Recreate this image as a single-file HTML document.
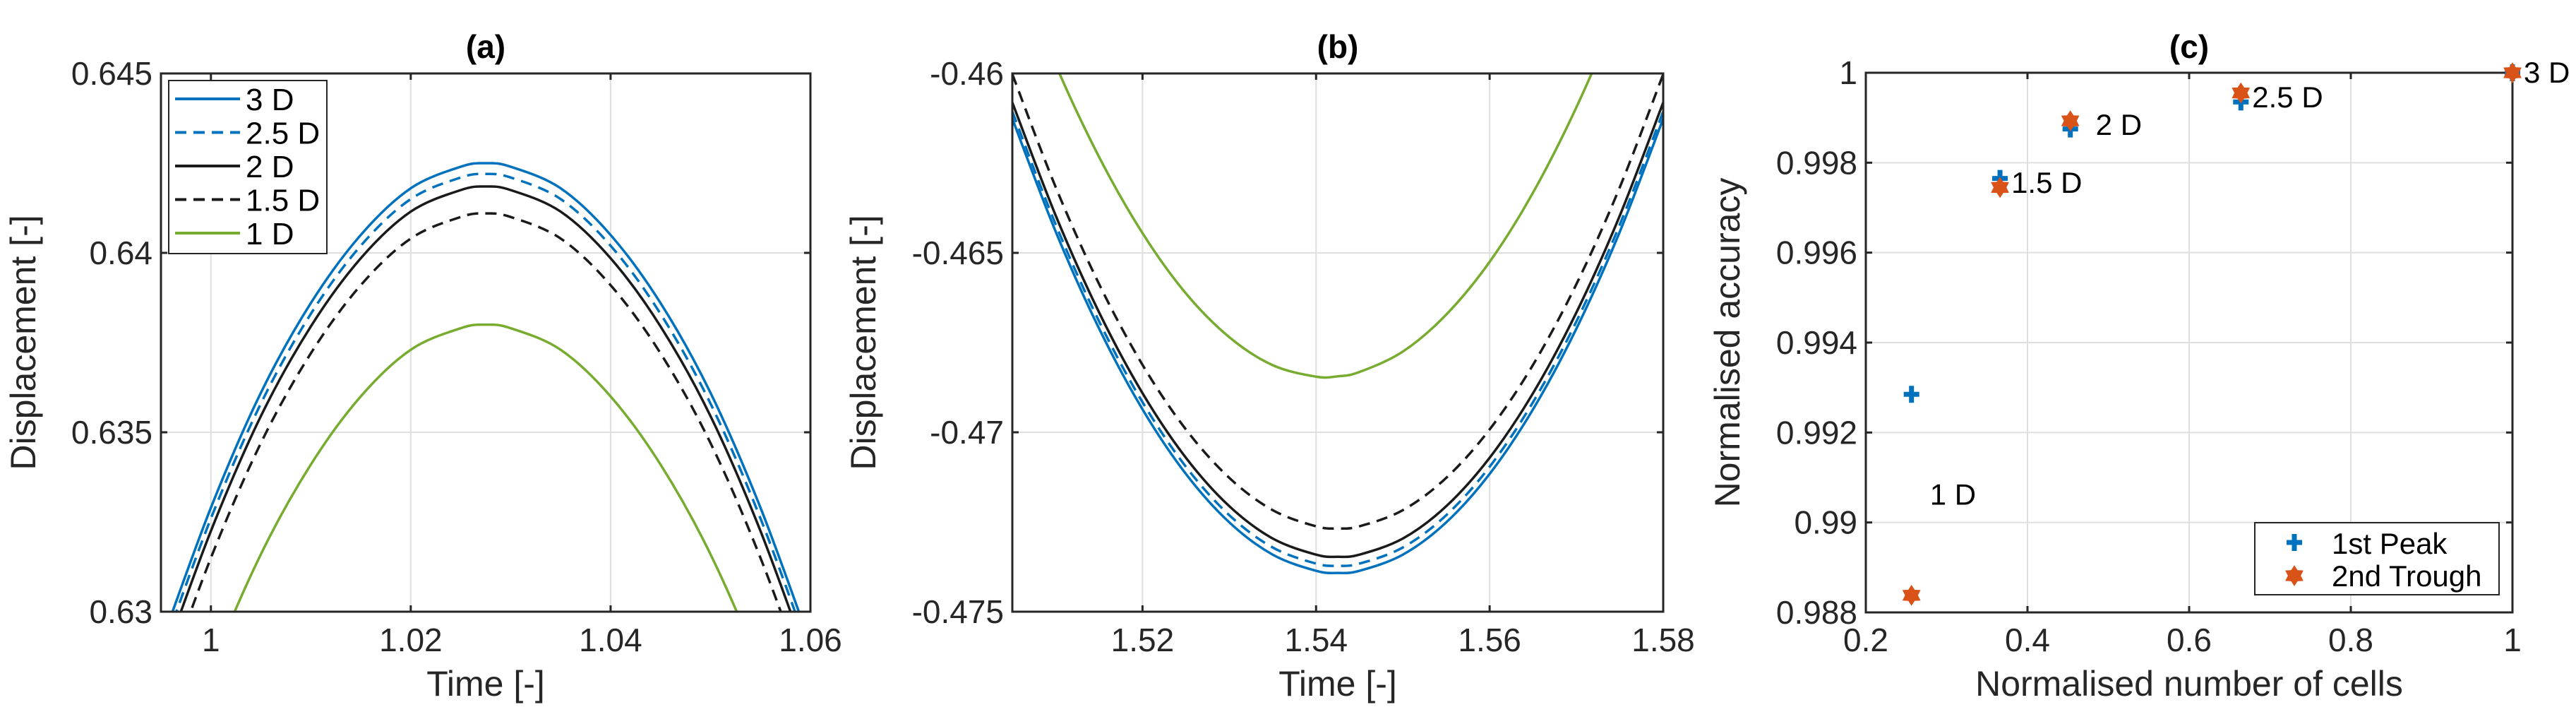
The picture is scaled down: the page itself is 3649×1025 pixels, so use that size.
<!DOCTYPE html>
<html><head><meta charset="utf-8"><style>
html,body{margin:0;padding:0;background:#fff;width:3649px;height:1025px;overflow:hidden}
svg{display:block;font-family:"Liberation Sans","DejaVu Sans",sans-serif}
</style></head><body>
<svg id="fig" width="3649" height="1025" viewBox="0 0 3649 1025" xmlns="http://www.w3.org/2000/svg">
<rect width="3649" height="1025" fill="#fff"/>
</svg>
<script>
// ---- Panel (a) data ----
const aTimes = [0.995, 1.0, 1.005, 1.01, 1.015, 1.02, 1.025, 1.0275, 1.03, 1.035, 1.04, 1.045, 1.05, 1.055, 1.06];
const a3D  = [0.6291, 0.6329, 0.6361, 0.6386, 0.6405, 0.6418, 0.6424, 0.6425, 0.6424, 0.6418, 0.6405, 0.6386, 0.6361, 0.6329, 0.6291];
const a25D = [0.6288, 0.6326, 0.6358, 0.6383, 0.6402, 0.6415, 0.6421, 0.6422, 0.6421, 0.6415, 0.6402, 0.6383, 0.6358, 0.6326, 0.6288];
const a2D  = [0.62845, 0.63225, 0.63545, 0.63795, 0.63985, 0.64115, 0.64175, 0.64185, 0.64175, 0.64115, 0.63985, 0.63795, 0.63545, 0.63225, 0.62845];
const a15D = [0.6277, 0.6315, 0.6347, 0.6372, 0.6391, 0.6404, 0.6410, 0.6411, 0.6410, 0.6404, 0.6391, 0.6372, 0.6347, 0.6315, 0.6277];
const a1D  = [0.6246, 0.6284, 0.6316, 0.6341, 0.6360, 0.6373, 0.6379, 0.6380, 0.6379, 0.6373, 0.6360, 0.6341, 0.6316, 0.6284, 0.6246];
const aXTicks = [1, 1.02, 1.04, 1.06];
const aYTicks = [0.63, 0.635, 0.64, 0.645];
// ---- Panel (b) data ----
const bTimes = [1.505, 1.51, 1.515, 1.52, 1.525, 1.53, 1.535, 1.54, 1.5425, 1.545, 1.55, 1.555, 1.56, 1.565, 1.57, 1.575, 1.58];
const b3D  = [-0.46126, -0.46441, -0.46711, -0.46936, -0.47116, -0.47251, -0.47341, -0.47386, -0.47392, -0.47386, -0.47341, -0.47251, -0.47116, -0.46936, -0.46711, -0.46441, -0.46126];
const b25D = [-0.46106, -0.46421, -0.46691, -0.46916, -0.47096, -0.47231, -0.47321, -0.47366, -0.47372, -0.47366, -0.47321, -0.47231, -0.47096, -0.46916, -0.46691, -0.46421, -0.46106];
const b2D  = [-0.46081, -0.46396, -0.46666, -0.46891, -0.47071, -0.47206, -0.47296, -0.47341, -0.47347, -0.47341, -0.47296, -0.47206, -0.47071, -0.46891, -0.46666, -0.46396, -0.46081];
const b15D = [-0.46002, -0.46317, -0.46587, -0.46812, -0.46992, -0.47127, -0.47217, -0.47262, -0.47268, -0.47262, -0.47217, -0.47127, -0.46992, -0.46812, -0.46587, -0.46317, -0.46002];
const b1D  = [-0.45673, -0.45976, -0.46233, -0.46445, -0.46613, -0.46735, -0.46813, -0.46845, -0.46844, -0.46832, -0.46775, -0.46672, -0.46525, -0.46332, -0.46094, -0.45812, -0.45484];
const bXTicks = [1.52, 1.54, 1.56, 1.58];
const bYTicks = [-0.475, -0.47, -0.465, -0.46];
// ---- Panel (c) data ----
const cCells = [0.2565, 0.366, 0.453, 0.664, 1.0];
const cLabels = ["1 D", "1.5 D", "2 D", "2.5 D", "3 D"];
const cPeak = [0.99285, 0.99765, 0.99875, 0.99935, 1.0];
const cTrough = [0.98838, 0.99745, 0.99893, 0.99955, 1.0];
const cXTicks = [0.2, 0.4, 0.6, 0.8, 1];
const cYTicks = [0.988, 0.99, 0.992, 0.994, 0.996, 0.998, 1];

const NS = "http://www.w3.org/2000/svg";
const svg = document.getElementById('fig');
function mk(tag, attrs, parent) {
  const e = document.createElementNS(NS, tag);
  for (const k in attrs) e.setAttribute(k, attrs[k]);
  (parent || svg).appendChild(e);
  return e;
}
const TXT = "#262626";
function fmt(v){ return String(+v.toFixed(4)); }

function makeAxes(id, L, R, T, B, xmin, xmax, ymin, ymax, xt, yt, title, xlabel, ylabel, ylabX) {
  const g = mk('g', {});
  
  
  const sx = v => L + (v - xmin) / (xmax - xmin) * (R - L);
  const sy = v => B - (v - ymin) / (ymax - ymin) * (B - T);
  const clipId = 'clip' + id;
  const cp = mk('clipPath', {id: clipId}, g);
  mk('rect', {x: L, y: T, width: R - L, height: B - T}, cp);
  xt.forEach(v => {
    const l = mk('line', {x1: sx(v), x2: sx(v), y1: T, y2: B, stroke: '#dfdfdf', 'stroke-width': 2}, g);
    
    
  });
  yt.forEach(v => {
    const l = mk('line', {x1: L, x2: R, y1: sy(v), y2: sy(v), stroke: '#dfdfdf', 'stroke-width': 2}, g);
    
    
  });
  const plot = mk('g', {'clip-path': 'url(#' + clipId + ')'}, g);
  function finish() {
    const box = mk('rect', {x: L, y: T, width: R - L, height: B - T, fill: 'none', stroke: TXT, 'stroke-width': 3}, g);
    
    
    xt.forEach(v => {
      mk('line', {x1: sx(v), x2: sx(v), y1: B, y2: B - 9, stroke: TXT, 'stroke-width': 3}, g);
      mk('line', {x1: sx(v), x2: sx(v), y1: T, y2: T + 9, stroke: TXT, 'stroke-width': 3}, g);
      const t = mk('text', {x: sx(v), y: 922, 'text-anchor': 'middle', 'font-size': 46, fill: TXT}, g);
      t.textContent = fmt(v);
      
      
    });
    yt.forEach(v => {
      mk('line', {x1: L, x2: L + 9, y1: sy(v), y2: sy(v), stroke: TXT, 'stroke-width': 3}, g);
      mk('line', {x1: R, x2: R - 9, y1: sy(v), y2: sy(v), stroke: TXT, 'stroke-width': 3}, g);
      const t = mk('text', {x: L - 12, y: sy(v) + 16, 'text-anchor': 'end', 'font-size': 46, fill: TXT}, g);
      t.textContent = fmt(v);
      
      
    });
    const ti = mk('text', {x: (L + R) / 2, y: 82, 'text-anchor': 'middle', 'font-size': 46, 'font-weight': 'bold', fill: '#000'}, g);
    ti.textContent = title;
    
    
    const xl = mk('text', {x: (L + R) / 2, y: 985, 'text-anchor': 'middle', 'font-size': 50, fill: TXT}, g);
    xl.textContent = xlabel;
    
    
    const cy = (T + B) / 2;
    const yl = mk('text', {x: ylabX, y: cy, 'text-anchor': 'middle', 'font-size': 50, fill: TXT, transform: 'rotate(-90 ' + ylabX + ' ' + cy + ')'}, g);
    yl.textContent = ylabel;
    
    
  }
  return {sx, sy, plot, finish, g};
}

function curve(ax, xs, ys, color, dash, name) {
  const pts = xs.map((x, i) => [ax.sx(x), ax.sy(ys[i])]);
  let d = 'M' + pts[0][0] + ',' + pts[0][1];
  for (let i = 0; i < pts.length - 1; i++) {
    const p0 = pts[Math.max(0, i - 1)], p1 = pts[i], p2 = pts[i + 1], p3 = pts[Math.min(pts.length - 1, i + 2)];
    const c1 = [p1[0] + (p2[0] - p0[0]) / 6, p1[1] + (p2[1] - p0[1]) / 6];
    const c2 = [p2[0] - (p3[0] - p1[0]) / 6, p2[1] - (p3[1] - p1[1]) / 6];
    d += ' C' + c1[0] + ',' + c1[1] + ' ' + c2[0] + ',' + c2[1] + ' ' + p2[0] + ',' + p2[1];
  }
  const a = {d: d, fill: 'none', stroke: color, 'stroke-width': 3.5};
  if (dash) a['stroke-dasharray'] = '16 10';
  const p = mk('path', a, ax.plot);
  
  
}

const BLUE = '#0072BD', GREEN = '#77AC30', BLACK = '#1a1a1a', ORANGE = '#D95319';

// Panel a
const A = makeAxes('a', 228, 1148, 104, 866, 0.995, 1.06, 0.63, 0.645, aXTicks, aYTicks, '(a)', 'Time [-]', 'Displacement [-]', 50);
curve(A, aTimes, a3D, BLUE, false, 'line-3d');
curve(A, aTimes, a25D, BLUE, true, 'line-2-5d');
curve(A, aTimes, a2D, BLACK, false, 'line-2d');
curve(A, aTimes, a15D, BLACK, true, 'line-1-5d');
curve(A, aTimes, a1D, GREEN, false, 'line-1d');
A.finish();
const lg = mk('g', {});


mk('rect', {x: 239, y: 114, width: 224, height: 245, fill: '#fff', stroke: TXT, 'stroke-width': 2}, lg);
const legItems = [['3 D', BLUE, false], ['2.5 D', BLUE, true], ['2 D', BLACK, false], ['1.5 D', BLACK, true], ['1 D', GREEN, false]];
legItems.forEach((it, i) => {
  const y = 140 + i * 47.5;
  const a = {x1: 248, x2: 340, y1: y, y2: y, stroke: it[1], 'stroke-width': 4};
  if (it[2]) a['stroke-dasharray'] = '16 10';
  const l = mk('line', a, lg);
  
  
  const t = mk('text', {x: 348, y: y + 16, 'font-size': 44, fill: '#000'}, lg);
  t.textContent = it[0];
  
  
});

// Panel b
const Bx = makeAxes('b', 1434, 2356, 104, 866, 1.505, 1.58, -0.475, -0.46, bXTicks, bYTicks, '(b)', 'Time [-]', 'Displacement [-]', 1240);
curve(Bx, bTimes, b3D, BLUE, false, 'line-3d');
curve(Bx, bTimes, b25D, BLUE, true, 'line-2-5d');
curve(Bx, bTimes, b2D, BLACK, false, 'line-2d');
curve(Bx, bTimes, b15D, BLACK, true, 'line-1-5d');
curve(Bx, bTimes, b1D, GREEN, false, 'line-1d');
Bx.finish();

// Panel c
const C = makeAxes('c', 2643, 3559, 103, 867, 0.2, 1, 0.988, 1, cXTicks, cYTicks, '(c)', 'Normalised number of cells', 'Normalised accuracy', 2464);
C.finish();
function plus(x, y, parent) {
  return mk('path', {d: 'M' + (x - 11) + ',' + y + 'H' + (x + 11) + 'M' + x + ',' + (y - 12) + 'V' + (y + 12), stroke: BLUE, 'stroke-width': 7, fill: 'none'}, parent);
}
function star(x, y, parent) {
  let d = '';
  for (let k = 0; k < 12; k++) {
    const r = k % 2 ? 8 : 13;
    const an = Math.PI / 6 * k - Math.PI / 2;
    d += (k ? 'L' : 'M') + (x + r * Math.cos(an)).toFixed(1) + ',' + (y + r * Math.sin(an)).toFixed(1);
  }
  return mk('path', {d: d + 'Z', fill: ORANGE, stroke: ORANGE, 'stroke-width': 2}, parent);
}
cCells.forEach((v, i) => {
  const p = plus(C.sx(v), C.sy(cPeak[i]));
  
  
  const s = star(C.sx(v), C.sy(cTrough[i]));
  
  
  let tx = C.sx(v) + 16, ty = C.sy((cPeak[i] + cTrough[i]) / 2) + 14;
  if (i === 0) tx += 10;
  if (i === 2) tx += 20;
  const t = mk('text', {x: tx, y: ty, 'font-size': 42, fill: '#000'});
  t.textContent = cLabels[i];
  
  
});
const lc = mk('g', {});


mk('rect', {x: 3194, y: 740, width: 346, height: 102, fill: '#fff', stroke: TXT, 'stroke-width': 2}, lc);
const lp = plus(3250, 768, lc);


const ls = star(3250, 815, lc);


const lt1 = mk('text', {x: 3303, y: 784, 'font-size': 42, fill: '#000'}, lc);
lt1.textContent = '1st Peak';


const lt2 = mk('text', {x: 3303, y: 830, 'font-size': 42, fill: '#000'}, lc);
lt2.textContent = '2nd Trough';


</script>
</body></html>
